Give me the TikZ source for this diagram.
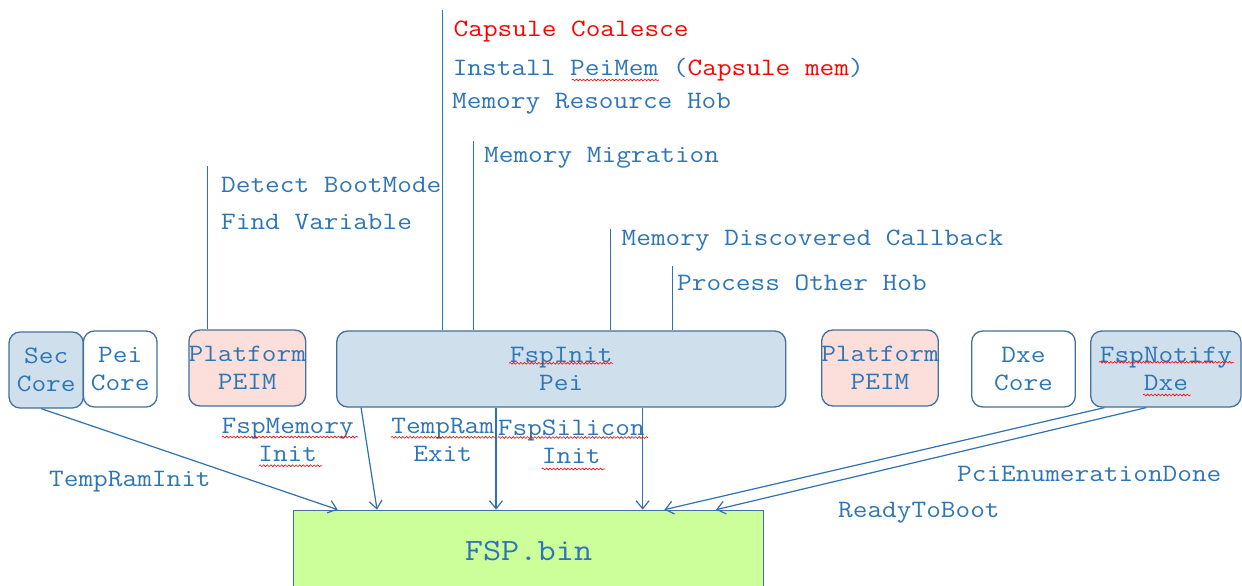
\documentclass[tikz,border=0pt]{standalone}
\usepackage{fontspec}
\setmonofont[FakeStretch=1.14]{Latin Modern Mono}
\usetikzlibrary{arrows.meta,decorations.pathmorphing}
\definecolor{txtblue}{HTML}{2E75B6}
\definecolor{edgeblue}{HTML}{41719C}
\definecolor{lineblue}{HTML}{3071B0}
\definecolor{boxblue}{HTML}{CFDFEC}
\definecolor{boxpink}{HTML}{FCDFDA}
\definecolor{boxgreen}{HTML}{CCFF99}
\definecolor{redtxt}{HTML}{FF0000}
\begin{document}
\begin{tikzpicture}[x=1pt,y=-1pt,
  lbl/.style={font=\ttfamily\fontsize{25}{28.5}\selectfont, text=txtblue, inner sep=0pt, align=center},
  box/.style={lbl, draw=edgeblue, line width=1.3pt, rounded corners=11pt, minimum height=76pt},
  conn/.style={draw=lineblue, line width=1.2pt},
  arr/.style={conn, -{Straight Barb[length=8pt,width=13pt,line width=1.2pt]}},
  squig/.style={draw=red, line width=0.6pt, decorate, decoration={snake, amplitude=0.9pt, segment length=3.6pt}}
]
\fill[white] (0,0) rectangle (1242,586);
\useasboundingbox (0,0) rectangle (1242,586);

% boxes
\node[box, fill=boxblue, minimum width=74.3pt] (sec) at (46.2,370) {Sec\\Core};
\node[box, fill=white, minimum width=73.7pt] (peic) at (120.2,369) {Pei\\Core};
\node[box, fill=boxpink, minimum width=116.7pt] (plata) at (247.3,368) {\makebox[100pt]{Platform}\\PEIM};
\node[box, fill=boxblue, minimum width=449pt] (fspinit) at (561.2,369) {FspInit\\Pei};
\node[box, fill=boxpink, minimum width=116.6pt] (platb) at (880,368) {\makebox[100pt]{Platform}\\PEIM};
\node[box, fill=white, minimum width=103.6pt] (dxe) at (1023.5,369) {Dxe\\Core};
\node[box, fill=boxblue, minimum width=150.3pt] (notify) at (1165.9,369) {FspNotify\\Dxe};
\node[lbl, draw=edgeblue, line width=1.3pt, fill=boxgreen, minimum width=469.6pt, minimum height=81.4pt,
      font=\ttfamily\fontsize{31}{34}\selectfont] (fsp) at (528.5,551) {FSP.bin};

% top coordinates of the vertical lines
\coordinate (t0) at (207.7,166);
\coordinate (t1) at (442.3,10);
\coordinate (t2) at (473.3,141);
\coordinate (t3) at (610.7,229);
\coordinate (t4) at (672.7,266);
\draw[conn] (plata.north -| t0) -- (t0);
\draw[conn] (fspinit.north -| t1) -- (t1);
\draw[conn] (fspinit.north -| t2) -- (t2);
\draw[conn] (fspinit.north -| t3) -- (t3);
\draw[conn] (fspinit.north -| t4) -- (t4);

% arrows into FSP.bin
\draw[arr] ([xshift=-5pt]sec.south) -- ([xshift=44.6pt]fsp.north west);
\draw[arr] ([xshift=25pt]fspinit.south west) -- ([xshift=84pt]fsp.north west);
\draw[arr] ([xshift=160pt]fspinit.south west) -- ([xshift=203pt]fsp.north west);
\draw[arr] ([xshift=306.6pt]fspinit.south west) -- ([xshift=349.6pt]fsp.north west);
\draw[arr] ([xshift=14.3pt]notify.south west) -- ([xshift=371.3pt]fsp.north west);
\draw[arr] ([xshift=56pt]notify.south west) -- ([xshift=423pt]fsp.north west);

% top texts
\node[lbl, text=redtxt, anchor=base west] (cc) at (453.5,37) {Capsule Coalesce};
\node[lbl, anchor=base west] (ipm) at (452.6,75) {Install PeiMem (\textcolor{redtxt}{Capsule mem})};
\node[lbl, anchor=base west] (mrh) at (452,108) {Memory Resource Hob};
\node[lbl, anchor=base west] (mm) at (484,162.7) {Memory Migration};
\node[lbl, anchor=base west] (dbm) at (221,192.3) {Detect BootMode};
\node[lbl, anchor=base west] (fv) at (221,229.3) {Find Variable};
\node[lbl, anchor=base west] (mdc) at (621.5,245.7) {Memory Discovered Callback};
\node[lbl, anchor=base west] (poh) at (677,290) {Process Other Hob};

% call labels
\node[lbl, anchor=base west] (tri) at (49,486.7) {TempRamInit};
\node[lbl] (fmi) at (287.7,440) {FspMemory\\Init};
\node[lbl] (tre) at (442.7,440) {TempRam\\Exit};
\node[lbl] (fsi) at (571.3,441.8) {FspSilicon\\Init};
\node[lbl, anchor=base west] (ped) at (957,481) {PciEnumerationDone};
\node[lbl, anchor=base west] (rtb) at (838,517.7) {ReadyToBoot};

% spell-check underlines
\draw[squig] (571.7,80) -- (659,80);
\draw[squig] (222,437) -- (358,437);
\draw[squig] (259,465.7) -- (322,465.7);
\draw[squig] (391,437.3) -- (495.7,437.3);
\draw[squig] (497.7,437.5) -- (648,437.5);
\draw[squig] (541.7,469) -- (605,469);
\draw[squig] (509,363.3) -- (613,363.3);
\draw[squig] (1099,362.3) -- (1234,362.3);
\draw[squig] (1143,395) -- (1190.7,395);
\end{tikzpicture}
\end{document}
